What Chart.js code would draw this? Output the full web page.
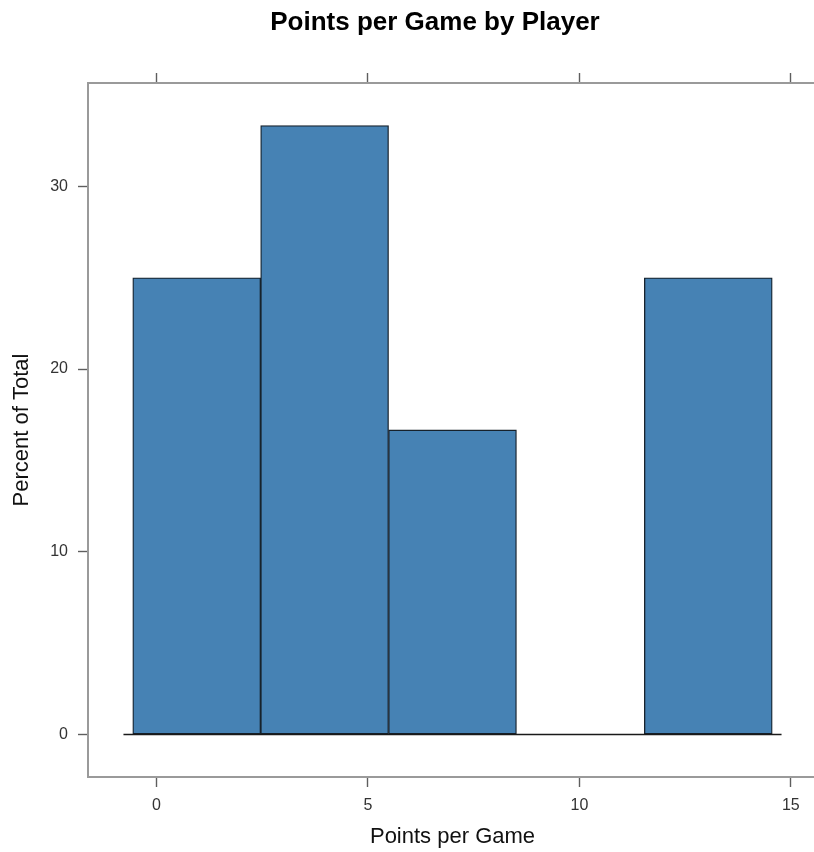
<!DOCTYPE html>
<html>
<head>
<meta charset="utf-8">
<title>Points per Game by Player</title>
<script src="https://cdn.jsdelivr.net/npm/chart.js@4.4.1/dist/chart.umd.min.js"></script>
<style>
  html, body { margin: 0; padding: 0; background: #ffffff; overflow: hidden; }
  #wrap { width: 814px; height: 852px; overflow: hidden; position: relative; }
  canvas { display: block; }
</style>
</head>
<body>
<div id="wrap"><canvas id="chart" width="870" height="852"></canvas></div>
<script>
// Histogram bins (points per game) and share of players in each bin (%)
const binEdges = [-0.56, 2.464, 5.488, 8.512, 11.536, 14.56];
const percentOfTotal = [25, 33.33, 16.67, 0, 25];

// Axis tick labels
const xTicks = [0, 5, 10, 15];
const yTicks = [0, 10, 20, 30];

// Bar centres derived from the bin edges
const binCentres = binEdges.slice(0, -1).map((e, i) => (e + binEdges[i + 1]) / 2);
const barData = binCentres.map((c, i) => ({ x: c, y: percentOfTotal[i] }));

// Panel limits: data range padded by 7% on each side
const xSpan = binEdges[binEdges.length - 1] - binEdges[0];
const xMin = binEdges[0] - 0.07 * xSpan;
const xMax = binEdges[binEdges.length - 1] + 0.07 * xSpan;
const yTop = Math.max(...percentOfTotal);
const yMin = 0 - 0.07 * yTop;
const yMax = yTop + 0.07 * yTop;

const FONT = "'Liberation Sans', Arial, Helvetica, sans-serif";
const frameColor = '#9a9a9a';
const tickColor = '#5e5e5e';
const labelColor = '#333333';

function fixedTicks(values) {
  return function (scale) { scale.ticks = values.map(v => ({ value: v })); };
}

// Horizontal reference line along zero, under the bars
const baselinePlugin = {
  id: 'baseline',
  afterDatasetsDraw(chart) {
    const { ctx, scales: { x, y } } = chart;
    const overhang = 0.22;
    const py = Math.round(y.getPixelForValue(0)) + 0.5;
    ctx.save();
    ctx.strokeStyle = '#1a1a1a';
    ctx.lineWidth = 1.4;
    ctx.beginPath();
    ctx.moveTo(x.getPixelForValue(binEdges[0] - overhang), py);
    ctx.lineTo(x.getPixelForValue(binEdges[binEdges.length - 1] + overhang), py);
    ctx.stroke();
    ctx.restore();
  }
};

const tickGrid = { drawOnChartArea: false, drawTicks: true, tickLength: 10, tickColor: tickColor, tickWidth: 1.4, offset: false };
const frame = { display: true, color: frameColor, width: 2 };

new Chart(document.getElementById('chart'), {
  type: 'bar',
  data: {
    datasets: [{
      data: barData,
      backgroundColor: '#4682B4',
      borderColor: '#16212b',
      borderWidth: 1.3,
      borderSkipped: false,
      barPercentage: 1,
      categoryPercentage: 1,
      xAxisID: 'x',
      yAxisID: 'y'
    }]
  },
  options: {
    responsive: false,
    animation: false,
    events: [],
    layout: { padding: 0 },
    plugins: {
      legend: { display: false },
      tooltip: { enabled: false },
      title: {
        display: true,
        text: 'Points per Game by Player',
        color: '#000000',
        font: { family: FONT, size: 26, weight: 'bold' },
        padding: { top: 7, bottom: 3 }
      }
    },
    scales: {
      x: {
        type: 'linear',
        position: 'bottom',
        offset: false,
        min: xMin,
        max: xMax,
        afterBuildTicks: fixedTicks(xTicks),
        afterFit(scale) { scale.height = 75; },
        grid: tickGrid,
        border: frame,
        ticks: { color: labelColor, font: { family: FONT, size: 16 }, padding: 9, maxRotation: 0 },
        title: {
          display: true,
          text: 'Points per Game',
          color: '#111111',
          font: { family: FONT, size: 22 },
          padding: { top: 0, bottom: 2 }
        }
      },
      xTop: {
        type: 'linear',
        position: 'top',
        offset: false,
        min: xMin,
        max: xMax,
        afterBuildTicks: fixedTicks(xTicks),
        afterFit(scale) { scale.height = 83 - 41.2; },
        grid: tickGrid,
        border: frame,
        ticks: { display: false }
      },
      y: {
        type: 'linear',
        position: 'left',
        min: yMin,
        max: yMax,
        afterBuildTicks: fixedTicks(yTicks),
        afterFit(scale) { scale.width = 88; },
        grid: tickGrid,
        border: frame,
        ticks: { color: labelColor, font: { family: FONT, size: 16 }, padding: 10 },
        title: {
          display: true,
          text: 'Percent of Total',
          color: '#111111',
          font: { family: FONT, size: 22 },
          padding: { top: 9, bottom: 0 }
        }
      },
      yRight: {
        type: 'linear',
        position: 'right',
        min: yMin,
        max: yMax,
        afterBuildTicks: fixedTicks(yTicks),
        afterFit(scale) { scale.width = 53; },
        grid: tickGrid,
        border: frame,
        ticks: { display: false }
      }
    }
  },
  plugins: [baselinePlugin]
});
</script>
</body>
</html>
